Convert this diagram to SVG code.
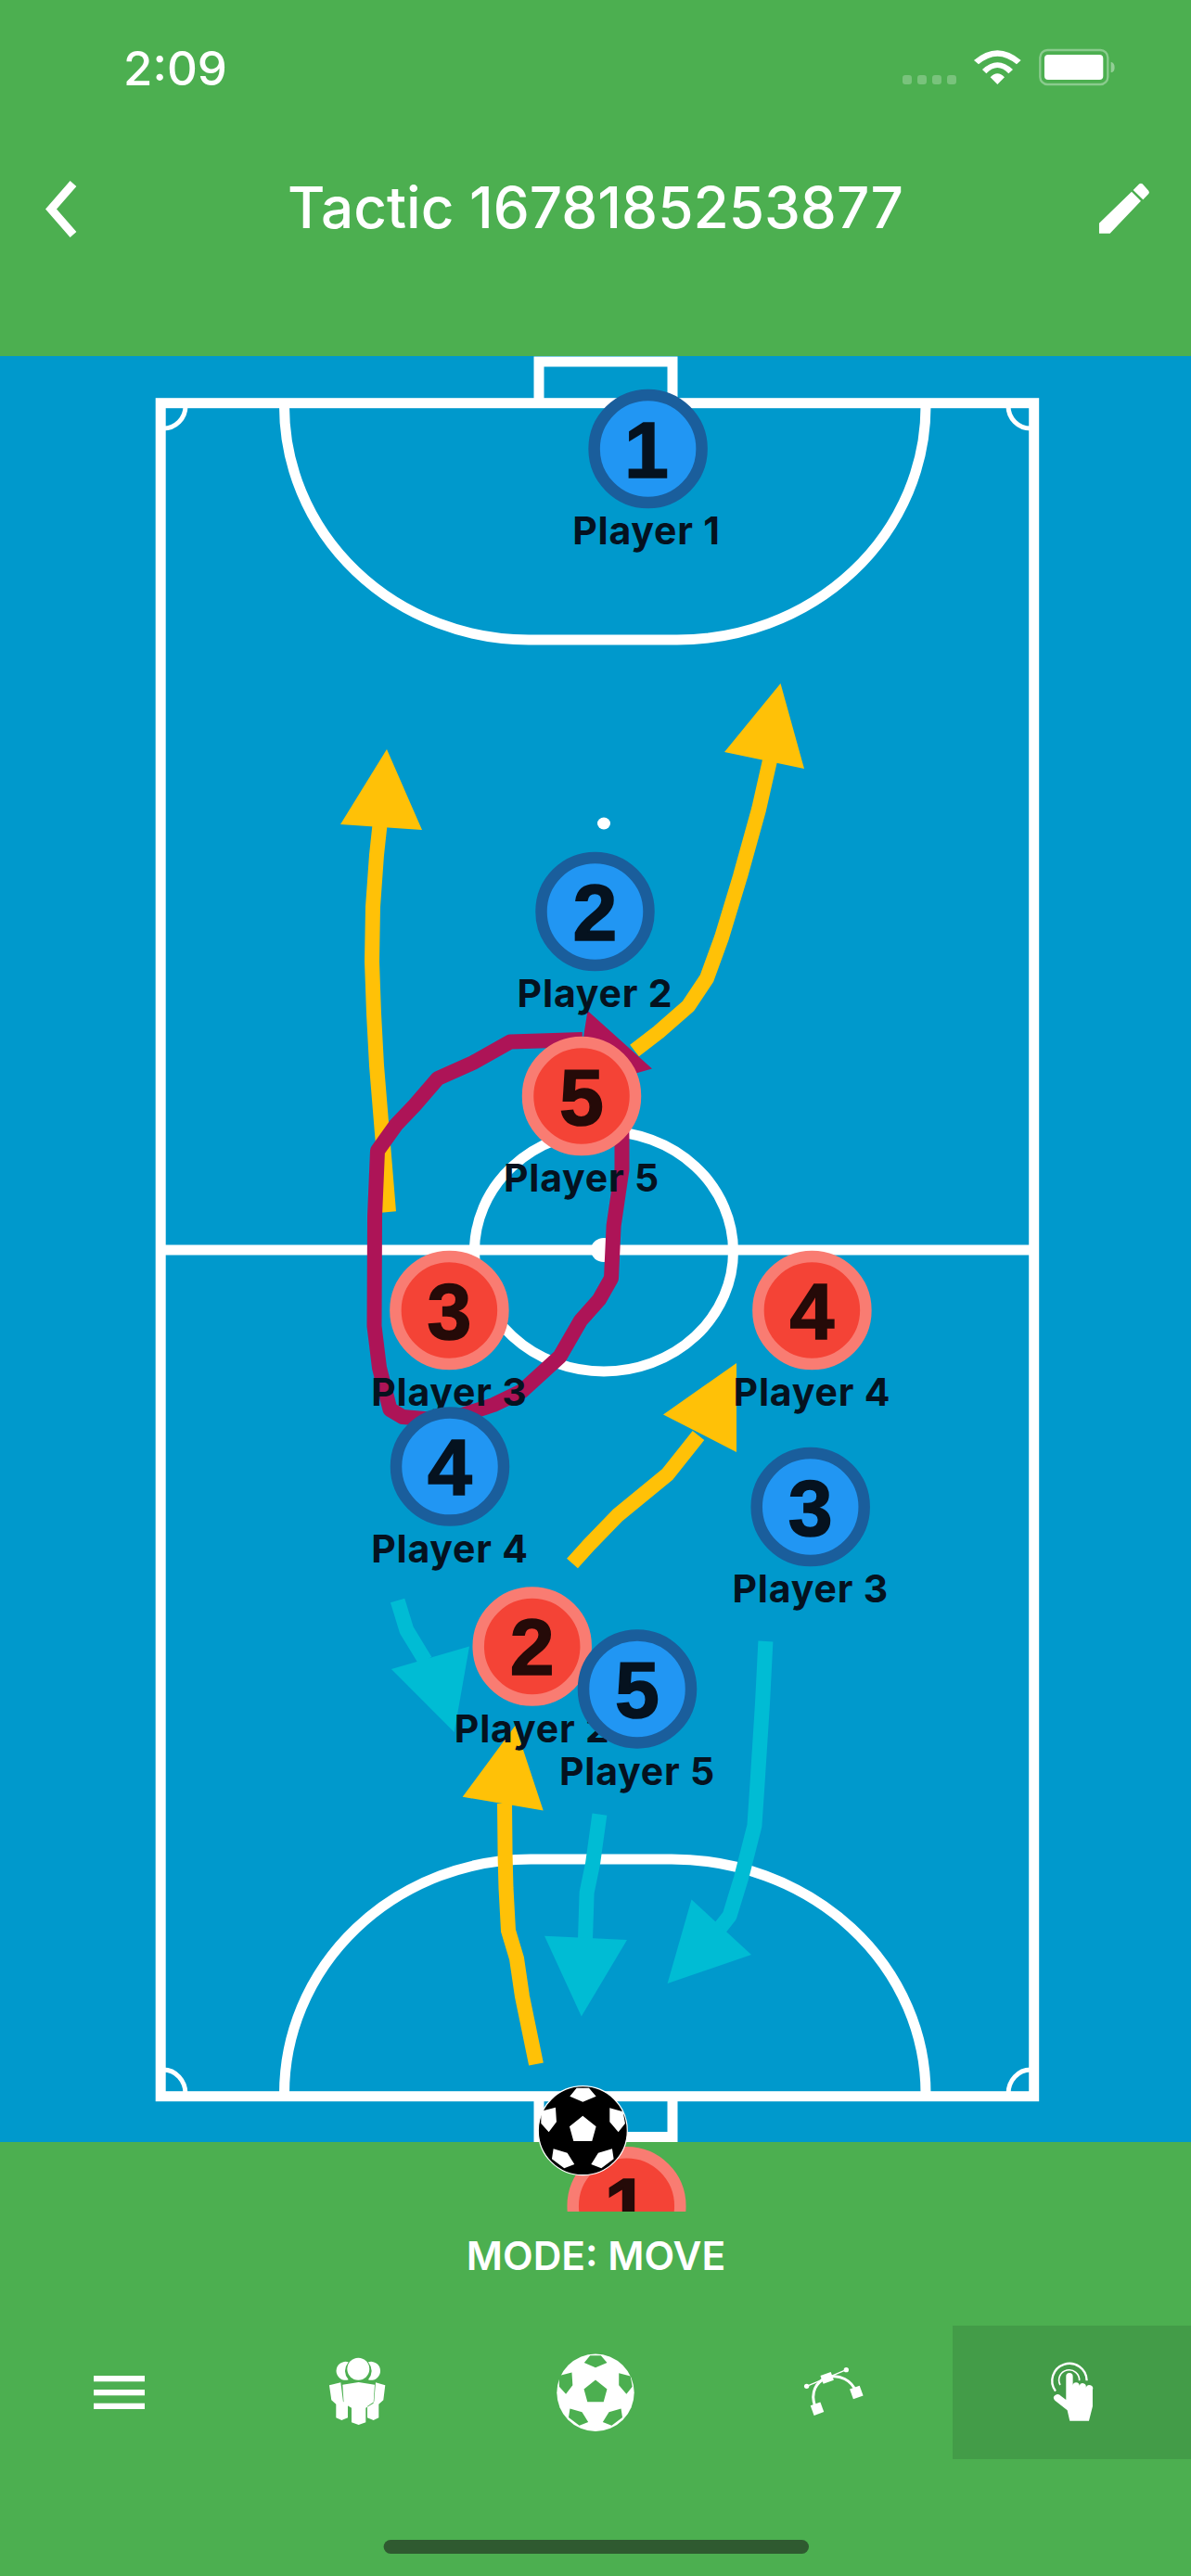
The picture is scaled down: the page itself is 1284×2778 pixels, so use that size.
<svg xmlns="http://www.w3.org/2000/svg" width="1284" height="2778" viewBox="0 0 1284 2778">
<style>
.ln{fill:none;stroke:#fff;stroke-width:11}
.thin{fill:none;stroke:#fff;stroke-width:5}
.y{fill:none;stroke:#FFC107;stroke-width:16;stroke-linejoin:round}
.yh{fill:#FFC107}
.c{fill:none;stroke:#00BCD4;stroke-width:16;stroke-linejoin:round}
.ch{fill:#00BCD4}
.m{fill:none;stroke:#AD1457;stroke-width:16;stroke-linejoin:round}
.mh{fill:#AD1457}
.w{fill:#fff}
.rd{fill:#F44336;stroke:#F97C72;stroke-width:12.5}
.bd{fill:#2196F3;stroke:#1A5E9C;stroke-width:12.5}
.num{font-family:"Liberation Sans",Arial,sans-serif;font-weight:700;font-size:86px;text-anchor:middle;stroke-width:1.6}
.rn{fill:#250A08;stroke:#250A08}
.bn{fill:#05121F;stroke:#05121F}
.lab{font-family:Inter,"Liberation Sans",sans-serif;font-weight:700;font-size:41px;letter-spacing:.8px;text-anchor:middle;fill:#05121F}
.ui{font-family:Inter,"Liberation Sans",sans-serif;fill:#fff}
</style>
<defs>
<path id="pents" d="M0-48 43-13 30 34H-30L-43-13ZM-42-111-20-138H20L43-111 0-93ZM-135-63-88-75-85-28-110 5-135-23ZM87-73 130-61 137-23 115 5 87-28ZM-95 59-50 72-27 109-60 122-100 92ZM50 72 95 59 100 92 60 122 27 109Z"/>
<clipPath id="panel"><rect x="0" y="0" width="1284" height="2385"/></clipPath>
</defs>
<rect id="bg" width="1284" height="2778" fill="#4CAF50"/>
<rect id="pitch" x="0" y="384" width="1284" height="1926" fill="#0099CC"/>
<g id="field">
<rect class="ln" x="173.2" y="434.7" width="941.5" height="1826"/>
<path class="ln" d="M581 434.7V390H725V434.7"/>
<path class="ln" d="M581 2260.7V2304.5H725V2260.7"/>
<line class="ln" x1="173" y1="1348" x2="1115" y2="1348"/>
<ellipse class="ln" cx="651" cy="1349.5" rx="139.5" ry="129.5"/>
<ellipse class="w" cx="651" cy="888" rx="7" ry="6.5"/>
<ellipse class="w" cx="651" cy="1348" rx="14" ry="13"/>
<path class="ln" d="M306.5 438A264 252 0 0 0 570 690H730A268 252 0 0 0 998 438"/>
<path class="ln" d="M306.5 2258A266 253 0 0 1 572 2005H724A274 253 0 0 1 998 2258"/>
<path class="thin" d="M200 438A24 24 0 0 1 176 462"/>
<path class="thin" d="M1087 438A24 24 0 0 0 1111 462"/>
<path class="thin" d="M200 2258A24 26 0 0 0 176 2232"/>
<path class="thin" d="M1087 2258A24 26 0 0 1 1111 2232"/>
</g>
<g id="connectors">
<polyline class="y" points="419,1307 411,1210 406,1149 403,1093 401,1037 402,978 406,922 410,885"/>
<polygon class="yh" points="417,808 367,889 455,895"/>
<polyline class="y" points="684,1133 710,1113 742,1085 762,1055 778,1011 798,945 818,873 830,820"/>
<polygon class="yh" points="841.5,737 781,811 867,829"/>
<polyline class="y" points="617,1686 635,1666 666,1634 719.6,1590 753,1548"/>
<polygon class="yh" points="794,1470 715,1525.5 794,1566"/>
<polyline class="y" points="578,2226 563,2153 557,2112 548,2082 545.5,2036 544.6,2002 544,1945"/>
<polygon class="yh" points="555.4,1861 498.7,1937.8 585.7,1952.5"/>
<polyline class="c" points="428.6,1726 438.4,1758 458.5,1791"/>
<polygon class="ch" points="489.7,1868 421.9,1800 506,1775.5"/>
<polyline class="c" points="646.4,1956.6 639,2010 632.6,2041 631,2092"/>
<polygon class="ch" points="626.8,2174.5 587,2087.8 676,2092"/>
<polyline class="c" points="825.4,1770 822,1837 816.5,1923.5 813.4,1969 799,2025.5 786.6,2066 774,2082"/>
<polygon class="ch" points="719.6,2139 745.5,2048.5 810,2108"/>
<polyline class="m" points="628,1121 550,1123.5 510,1146 472,1163 447,1192 427,1213 407,1241 404,1312 403.5,1430 409,1475 420.5,1520 434,1528 480,1532 532,1515 563,1500 603.5,1463 626,1424 646,1401.5 659,1378.5 661.6,1322 670.5,1261 670.5,1230 670,1200"/>
<polygon class="mh" points="703,1152.5 633.5,1090 620,1176"/>
</g>
<g id="red-1" clip-path="url(#panel)">
<circle class="rd" cx="675.5" cy="2379" r="57.8"/>
<text class="num rn" x="675.5" y="2409">1</text>
</g>
<g id="red-2">
<circle class="rd" cx="573.7" cy="1775.5" r="58"/>
<text class="num rn" x="573.7" y="1806">2</text>
<text class="lab" x="573.7" y="1878.5">Player 2</text>
</g>
<g id="red-3">
<circle class="rd" cx="484.4" cy="1413" r="58"/>
<text class="num rn" x="484.4" y="1443.5">3</text>
<text class="lab" x="484.4" y="1516">Player 3</text>
</g>
<g id="red-4">
<circle class="rd" cx="875.4" cy="1413" r="58"/>
<text class="num rn" x="875.4" y="1443.5">4</text>
<text class="lab" x="875.4" y="1516">Player 4</text>
</g>
<g id="red-5">
<circle class="rd" cx="627" cy="1182" r="58"/>
<text class="num rn" x="627" y="1212.5">5</text>
<text class="lab" x="627" y="1285">Player 5</text>
</g>
<g id="blue-1">
<circle class="bd" cx="698.6" cy="484" r="58"/>
<text class="num bn" x="697" y="514.5">1</text>
<text class="lab" x="697" y="587">Player 1</text>
</g>
<g id="blue-2">
<circle class="bd" cx="641.5" cy="983" r="58"/>
<text class="num bn" x="641.5" y="1013.5">2</text>
<text class="lab" x="641.5" y="1086">Player 2</text>
</g>
<g id="blue-3">
<circle class="bd" cx="873.7" cy="1625" r="58"/>
<text class="num bn" x="873.7" y="1655.5">3</text>
<text class="lab" x="873.7" y="1728">Player 3</text>
</g>
<g id="blue-4">
<circle class="bd" cx="485" cy="1581.6" r="58"/>
<text class="num bn" x="485" y="1612">4</text>
<text class="lab" x="485" y="1684.7">Player 4</text>
</g>
<g id="blue-5">
<circle class="bd" cx="687" cy="1821.4" r="58"/>
<text class="num bn" x="687" y="1852">5</text>
<text class="lab" x="687" y="1924.5">Player 5</text>
</g>
<g id="ball">
<circle cx="628.3" cy="2297.7" r="48" fill="#000" stroke="#fff" stroke-width="1.2"/>
<use href="#pents" fill="#fff" transform="translate(628.3 2297.7) scale(.3333)"/>
</g>
<g id="status-bar">
<text class="ui" x="133" y="91.5" font-size="51" font-weight="500">2:09</text>
<g transform="translate(900 30) scale(.3333)">
<g fill="#fff" fill-opacity=".25">
<rect x="219" y="153" width="30" height="30" rx="9"/>
<rect x="267" y="153" width="30" height="30" rx="9"/>
<rect x="315" y="153" width="30" height="30" rx="9"/>
<rect x="363" y="153" width="30" height="30" rx="9"/>
</g>
<path class="w" d="M450 105Q526 40 602 105L588 118Q526 66 465 118ZM477 135Q526 88 576 135L562 148Q526 110 490 148ZM503 160Q526 136 549 160L526 183Z"/>
<rect x="664" y="72" width="219" height="111" rx="24" fill="none" stroke="#fff" stroke-opacity=".35" stroke-width="7"/>
<rect class="w" x="678" y="87" width="190" height="81" rx="12"/>
<path d="M893 110Q905 113 905 128T893 145Z" fill="#fff" fill-opacity=".4"/>
</g>
</g>
<g id="header">
<polyline points="79,198 55,225.5 79,253" fill="none" stroke="#fff" stroke-width="9"/>
<text class="ui" x="642" y="245.5" font-size="62" font-weight="500" text-anchor="middle">Tactic 1678185253877</text>
<g transform="translate(900 30) scale(.3333)">
<path class="w" d="M855 665V632L960 530 990 560 890 665ZM965 525 985 505Q990 502 995 505L1015 527Q1019 532 1015 537L997 556Z"/>
</g>
</g>
<text id="mode" class="ui" x="642.5" y="2447.7" font-size="42.5" font-weight="600" text-anchor="middle">MODE: MOVE</text>
<g id="toolbar">
<rect x="1027" y="2508" width="257" height="144" fill="#439C48"/>
<g id="tool-menu">
<rect class="w" x="101" y="2562" width="55" height="6.3"/>
<rect class="w" x="101" y="2577" width="55" height="6.3"/>
<rect class="w" x="101" y="2591.7" width="55" height="6.3"/>
</g>
<g id="tool-players" transform="translate(60 2400) scale(.3333)">
<path class="w" d="M947 442A30 30 0 1 0 947 499Q925 471 947 442ZM1011 442A30 30 0 1 1 1011 499Q1033 471 1011 442Z"/>
<circle class="w" cx="979" cy="464" r="36"/>
<path class="w" d="M928 515 980 507 1032 515 1028 575 1003 590V637L980 645 957 637V590L932 575ZM885 517 922 508 930 570 945 580V622L925 630 907 622V578L892 565ZM1066 517 1035 508 1030 570 1008 585V622L1028 630 1045 622V578L1060 565Z"/>
</g>
<g id="tool-ball">
<circle class="w" cx="642" cy="2580.3" r="41.7"/>
<use href="#pents" fill="#4CAF50" transform="translate(642 2580.3) scale(.29)"/>
</g>
<g id="tool-curve" transform="translate(780 2480) scale(.3333)">
<path d="M296 345C280 300 300 265 335 252 375 240 415 260 430 300" fill="none" stroke="#fff" stroke-width="9"/>
<path d="M269 280 397 227" fill="none" stroke="#fff" stroke-width="4"/>
<circle class="w" cx="269" cy="280" r="8"/>
<circle class="w" cx="397" cy="227" r="8"/>
<rect class="w" x="317" y="239" width="36" height="28" transform="rotate(-20 335 253)"/>
<rect class="w" x="286" y="336" width="34" height="34" transform="rotate(-20 303 353)"/>
<rect class="w" x="413" y="283" width="34" height="34" transform="rotate(-20 430 300)"/>
</g>
<g id="tool-move" transform="translate(780 2480) scale(.3333)">
<path d="M1074 296A56 56 0 1 1 1175 262" fill="none" stroke="#fff" stroke-width="7"/>
<path d="M1089 276A33 33 0 1 1 1151 262" fill="none" stroke="#fff" stroke-width="5"/>
<path class="w" d="M1108 248A11 11 0 0 1 1130 248V278A10 10 0 0 1 1151 278 10 10 0 0 1 1172 284 10 10 0 0 1 1194 292V345L1182 392H1120L1112 358 1072 326Q1062 315 1074 308 1084 303 1092 312L1108 324Z"/>
</g>
</g>
<rect id="home-indicator" x="413.6" y="2739" width="458.4" height="15" rx="7.5" fill="#2F5A30"/>
</svg>
